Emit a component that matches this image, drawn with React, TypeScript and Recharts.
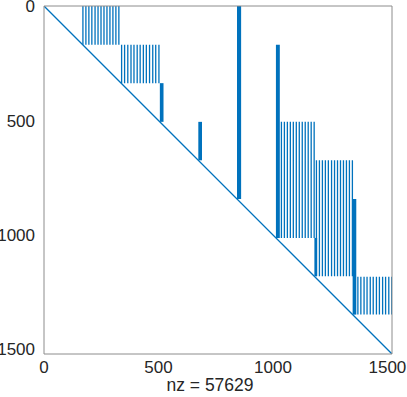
import { ComposedChart, Line, XAxis, YAxis, ReferenceArea, Label } from "recharts";

const AZUL = "#0072BD";
const CAIXA = "#8c8c8c";
const TEXTO = "#262626";
const FONTE = '"Liberation Sans", Arial, sans-serif';

const LIM = 1520;
const TICKS = [0, 500, 1000, 1500];
const NZ = 57629;

// diagonal principal
const DIAGONAL = [
  { x: 1, y: 1 },
  { x: 1519, y: 1519 },
];

// blocos listrados: colunas cheias (esparsas) entre as linhas r0..r1
const COLS_A = [170, 183, 196, 209, 223, 236, 249, 262, 275, 288, 301, 314, 327];
const COLS_B = [339, 352, 366, 380, 393, 407, 420, 434, 447, 461, 475, 488, 502];
const COLS_C = [1037, 1050, 1063, 1076, 1089, 1102, 1115, 1128, 1141, 1154, 1167, 1180];
const COLS_D = [1190, 1203, 1216, 1229, 1242, 1256, 1269, 1282, 1295, 1308, 1321, 1334, 1347];
const COLS_E = [1371, 1384, 1398, 1411, 1425, 1438, 1452, 1465, 1479, 1492, 1506, 1519];

const BLOCOS = [
  { cols: COLS_A, r0: 0, r1: 169 },
  { cols: COLS_B, r0: 169, r1: 337 },
  { cols: COLS_C, r0: 506, r1: 1013 },
  { cols: COLS_D, r0: 674, r1: 1180 },
  { cols: COLS_E, r0: 1183, r1: 1348 },
];

// colunas densas (faixas grossas)
const FAIXAS = [
  { c0: 506, c1: 522, r0: 337, r1: 506 },
  { c0: 674, c1: 690, r0: 506, r1: 674 },
  { c0: 843, c1: 861, r0: 0, r1: 843 },
  { c0: 1013, c1: 1030, r0: 169, r1: 1013 },
  { c0: 1181, c1: 1193, r0: 1013, r1: 1180 },
  { c0: 1348, c1: 1364, r0: 843, r1: 1348 },
];

// cada coluna vira um segmento; null quebra a linha entre colunas
const listras = BLOCOS.flatMap((b) =>
  b.cols.flatMap((c) => [
    { x: c, y: b.r0 },
    { x: c, y: b.r1 },
    { x: c, y: null },
  ])
);

const tickTexto = { fontSize: 17, fill: TEXTO, fontFamily: FONTE };

export default function App() {
  return (
    <div style={{ position: "absolute", left: 0, top: 0 }}>
      <ComposedChart width={407} height={397} margin={{ top: 6, right: 15, left: 0, bottom: 0 }}>
        <XAxis
          xAxisId="x"
          dataKey="x"
          type="number"
          domain={[0, LIM]}
          ticks={TICKS}
          interval={0}
          allowDataOverflow
          height={43}
          tickLine={false}
          tickSize={0}
          tickMargin={7}
          axisLine={{ stroke: CAIXA }}
          tick={tickTexto}
        >
          <Label
            value={`nz = ${NZ}`}
            position="insideBottom"
            offset={6}
            dx={-8}
            style={{ fontSize: 17.5, fill: TEXTO, fontFamily: FONTE }}
          />
        </XAxis>
        <XAxis
          xAxisId="xb"
          orientation="bottom"
          mirror
          type="number"
          domain={[0, LIM]}
          ticks={TICKS}
          interval={0}
          allowDataOverflow
          tick={false}
          tickSize={4}
          tickLine={{ stroke: CAIXA }}
          axisLine={false}
        />
        <XAxis
          xAxisId="xt"
          orientation="top"
          mirror
          type="number"
          domain={[0, LIM]}
          ticks={TICKS}
          interval={0}
          allowDataOverflow
          tick={false}
          tickSize={4}
          tickLine={{ stroke: CAIXA }}
          axisLine={{ stroke: CAIXA }}
        />
        <YAxis
          yAxisId="y"
          dataKey="y"
          type="number"
          reversed
          domain={[0, LIM]}
          ticks={TICKS}
          interval={0}
          allowDataOverflow
          width={44}
          tickLine={false}
          tickSize={0}
          tickMargin={9}
          axisLine={{ stroke: CAIXA }}
          tick={tickTexto}
        />
        <YAxis
          yAxisId="yl"
          orientation="left"
          mirror
          type="number"
          reversed
          domain={[0, LIM]}
          ticks={TICKS}
          interval={0}
          allowDataOverflow
          tick={false}
          tickSize={4}
          tickLine={{ stroke: CAIXA }}
          axisLine={false}
        />
        <YAxis
          yAxisId="yr"
          orientation="right"
          mirror
          type="number"
          reversed
          domain={[0, LIM]}
          ticks={TICKS}
          interval={0}
          allowDataOverflow
          tick={false}
          tickSize={4}
          tickLine={{ stroke: CAIXA }}
          axisLine={{ stroke: CAIXA }}
        />

        {FAIXAS.map((f, i) => (
          <ReferenceArea
            key={i}
            xAxisId="x"
            yAxisId="y"
            x1={f.c0}
            x2={f.c1}
            y1={f.r0}
            y2={f.r1}
            fill={AZUL}
            fillOpacity={1}
            stroke="none"
          />
        ))}
        <Line
          xAxisId="x"
          yAxisId="y"
          data={listras}
          dataKey="y"
          stroke={AZUL}
          strokeWidth={1.3}
          dot={false}
          isAnimationActive={false}
        />
        <Line
          xAxisId="x"
          yAxisId="y"
          data={DIAGONAL}
          dataKey="y"
          stroke={AZUL}
          strokeWidth={1.3}
          dot={false}
          isAnimationActive={false}
        />
      </ComposedChart>
    </div>
  );
}
